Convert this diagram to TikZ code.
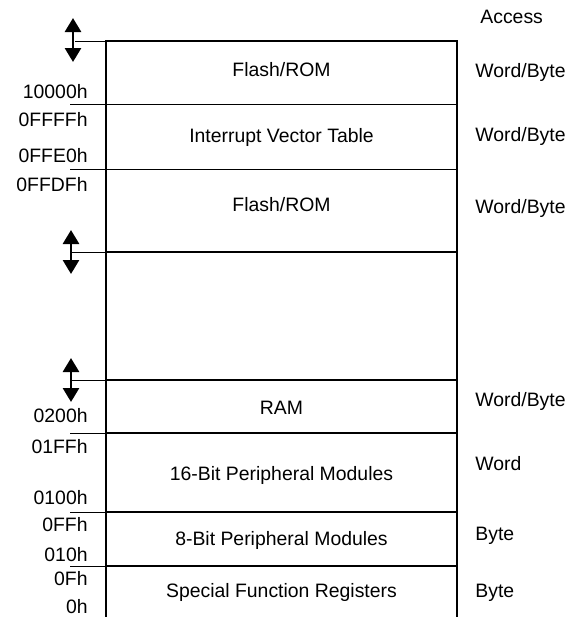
\documentclass[tikz,border=0pt]{standalone}
\usepackage{fontspec}
\setmainfont{Liberation Sans}
\usetikzlibrary{
  arrows.meta
}

\begin{document}
\begin{tikzpicture}[x=0.5pt,y=-0.5pt]
  \tikzset{
    mapstyles/.style = {
      every node/.style={font=\fontsize{9.7}{11}\selectfont,
        inner sep=0pt, text height=0.72em, text depth=0pt},
    },
    addr/.style={anchor=east},
    access/.style={anchor=west},
    region/.style={anchor=center},
    border/.style={line width=1.35pt},
    divider/.style={line width=1pt},
    tick/.style={line width=0.5pt},
    gapmark/.style={
      {Triangle[width=8pt,length=7pt]}-{Triangle[width=8pt,length=7pt]},
      line width=1.35pt},
  }
  \useasboundingbox (0,0) rectangle (569,617);
  \begin{scope}[mapstyles]

  % outline of the address space (open at the bottom)
  \coordinate (map-bl) at (106,617);
  \coordinate (map-tl) at (106,41);
  \coordinate (map-tr) at (457,41);
  \coordinate (map-br) at (457,617);
  \draw[border] (map-bl) -- (map-tl) -- (map-tr) -- (map-br);

  % region boundaries, with a short tick out to the left
  \foreach \n/\y/\w in {1/104/0.5pt,2/169/0.5pt,3/252/1pt,4/380/1pt,
    5/433/1pt,6/512/1pt,7/566/1pt}
  {
    \coordinate (tick\n) at (70,\y);
    \coordinate (left\n) at (106,\y);
    \coordinate (right\n) at (457,\y);
    \draw[tick] (tick\n) -- (left\n);
    \draw[line width=\w] (left\n) -- (right\n);
  }
  \coordinate (tick0) at (75,41);
  \draw[tick] (tick0) -- (map-tl);

  % address labels
  \foreach \n/\y/\t in {1/91/10000h,2/119/0FFFFh,3/155/0FFE0h,4/184/0FFDFh,
    5/415/0200h,6/446/01FFh,7/497/0100h,8/524/0FFh,9/554/010h,
    10/578/0Fh,11/606/0h}
    \node[addr] (addr\n) at (88,\y) {\t};

  % region names
  \foreach \n/\y/\t in {1/69/{Flash/ROM},2/135/{Interrupt Vector Table},
    3/204/{Flash/ROM},4/407/{RAM},5/473/{16-Bit Peripheral Modules},
    6/538/{8-Bit Peripheral Modules},7/590/{Special Function Registers}}
    \node[region] (region\n) at (281.5,\y) {\t};

  % access widths
  \node[access] (access) at (480,16) {Access};
  \foreach \n/\y/\t in {1/70/{Word/Byte},2/134/{Word/Byte},3/206/{Word/Byte},
    4/399/{Word/Byte},5/463/Word,6/533/Byte,7/590/Byte}
    \node[access] (acc\n) at (475,\y) {\t};

  % open-ended size markers
  \foreach \n/\x/\y in {1/73/40,2/71/252,3/71/380}
  {
    \coordinate (gap\n-top) at (\x,\y-22);
    \coordinate (gap\n-bot) at (\x,\y+22);
    \draw[gapmark] (gap\n-top) -- (gap\n-bot);
  }
  \end{scope}
\end{tikzpicture}
\end{document}
